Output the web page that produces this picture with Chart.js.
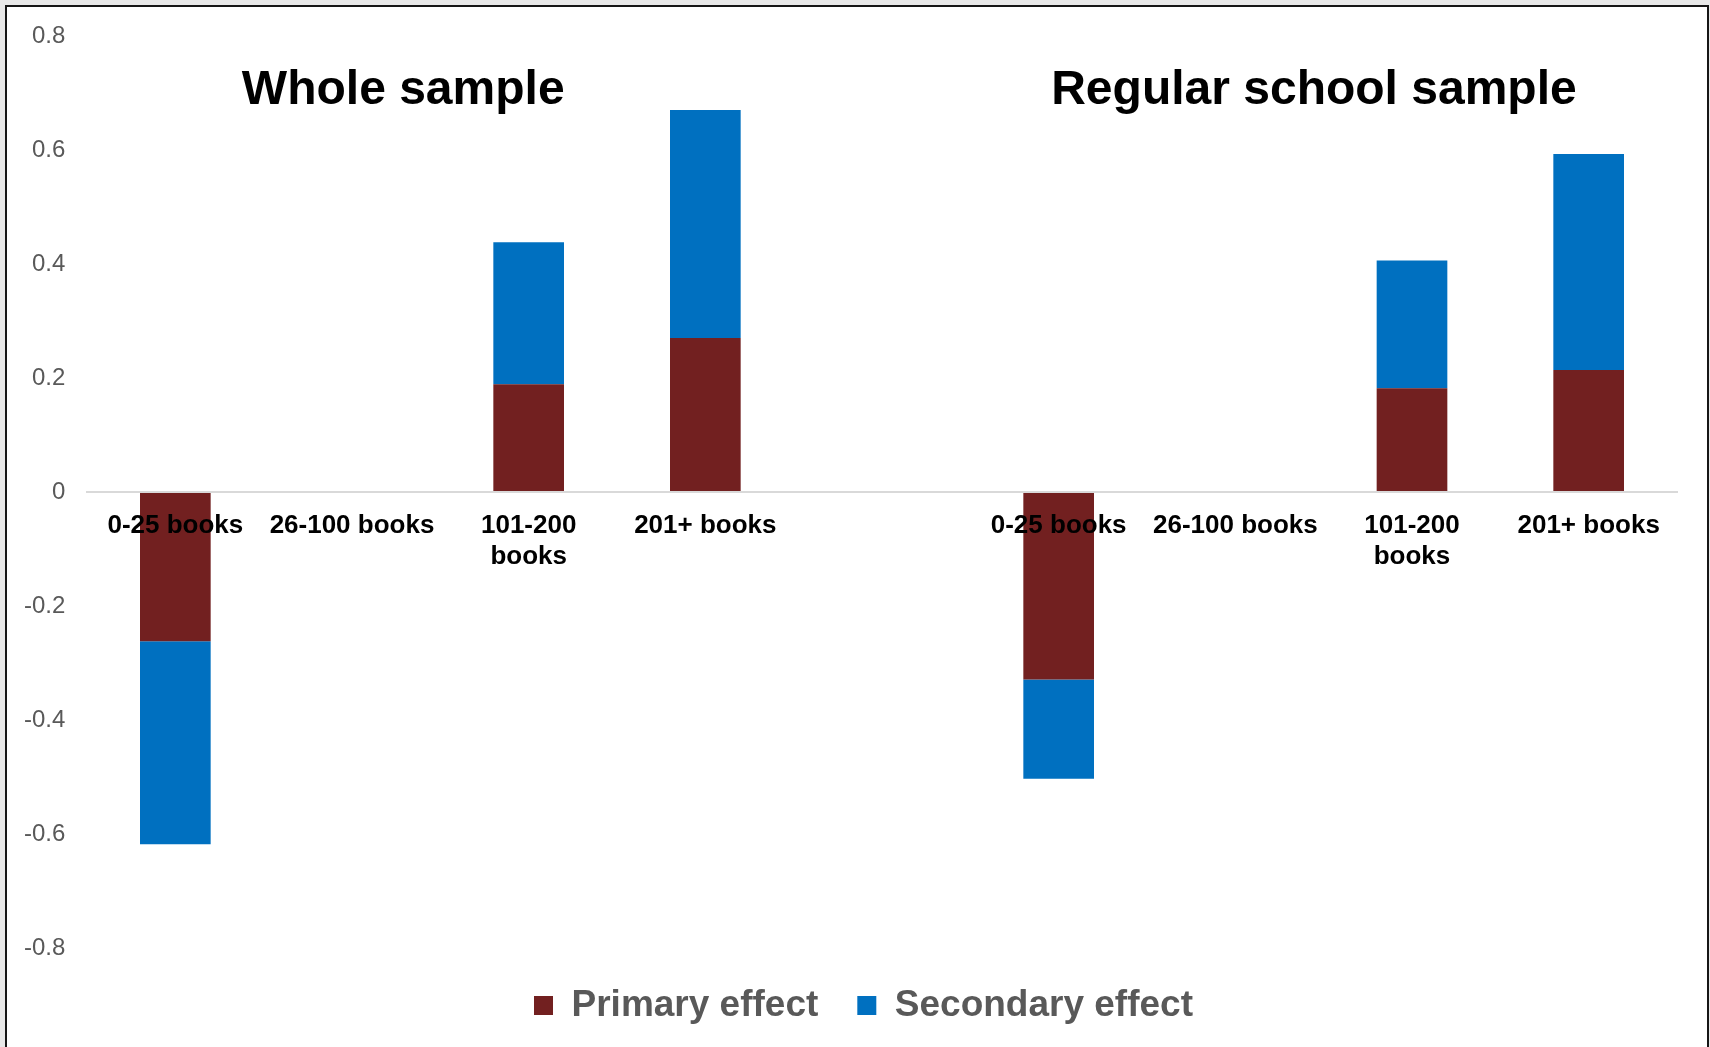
<!DOCTYPE html>
<html>
<head>
<meta charset="utf-8">
<script src="https://cdn.jsdelivr.net/npm/chart.js@4.4.1/dist/chart.umd.min.js"></script>
<style>
	body { margin: 0; background: #e8e8e8; width: 1710px; height: 1047px; overflow: hidden; position: relative; }
	#frame { position: absolute; left: 5px; top: 5px; width: 1700px; height: 1060px; border: 2px solid #161616; background: #fff; }
	#barCanvas { position: absolute; left: 0; top: 0; }
</style>
</head>
<body>
<div id="frame"></div>
<canvas id="barCanvas" width="1710" height="1047"></canvas>
<script>
// 카테고리 (가운데 빈 칸으로 두 표본 구분)
const categories = [
	"0-25 books", "26-100 books", ["101-200", "books"], "201+ books",
	"",
	"0-25 books", "26-100 books", ["101-200", "books"], "201+ books"
];

const primaryEffect = [-0.262, null, 0.189, 0.270, null, -0.329, null, 0.182, 0.214];
const secondaryEffect = [-0.356, null, 0.249, 0.400, null, -0.174, null, 0.224, 0.379];

const yTicks = [0.8, 0.6, 0.4, 0.2, 0, -0.2, -0.4, -0.6, -0.8];

const panelTitles = ["Whole sample", "Regular school sample"];

// 패널 제목 그리기
const panelTitlePlugin = {
	id: 'panelTitles',
	afterDraw(chart) {
		const c = chart.ctx;
		const x = chart.scales.x;
		const y = chart.scales.y;
		const spots = [[1.29, 0.68], [6.445, 0.68]];
		c.save();
		c.font = "bold 48px 'Liberation Sans', Arial, sans-serif";
		c.fillStyle = "#000";
		c.textAlign = "center";
		c.textBaseline = "alphabetic";
		for (let i = 0; i < panelTitles.length; i++) {
			c.fillText(panelTitles[i], x.getPixelForValue(spots[i][0]), y.getPixelForValue(spots[i][1]));
		}
		c.restore();
	}
};

var ctx = document.getElementById("barCanvas").getContext("2d");

var data = {
	labels: categories,
	datasets: [
		{
			label: "Primary effect",
			data: primaryEffect,
			backgroundColor: "#722020",
			borderWidth: 0
		},
		{
			label: "Secondary effect",
			data: secondaryEffect,
			backgroundColor: "#0070C0",
			borderWidth: 0
		}
	]
};

var options = {
	responsive: false,
	animation: false,
	devicePixelRatio: 1,
	layout: {
		padding: { left: 50, right: 33, top: 36, bottom: 13 }
	},
	datasets: {
		bar: { categoryPercentage: 1, barPercentage: 0.4 }
	},
	plugins: {
		legend: {
			display: true,
			position: 'bottom',
			labels: {
				boxWidth: 19,
				boxHeight: 19,
				padding: 39,
				color: "#595959",
				font: { family: "'Liberation Sans', Arial, sans-serif", size: 37, weight: 'bold' }
			}
		},
		tooltip: { enabled: false }
	},
	scales: {
		x: {
			stacked: true,
			position: { y: 0 },
			grid: { display: false, drawTicks: false },
			border: { display: true, color: "#d9d9d9", width: 2, z: 1 },
			ticks: {
				z: 1,
				color: "#000",
				padding: 18,
				maxRotation: 0,
				autoSkip: false,
				font: { family: "'Liberation Sans', Arial, sans-serif", size: 26, weight: 'bold', lineHeight: 1.2 }
			}
		},
		y: {
			stacked: true,
			min: -0.8,
			max: 0.8,
			grid: { display: false, drawTicks: false },
			border: { display: false },
			afterBuildTicks: function(scale) {
				scale.ticks = yTicks.map(v => ({ value: v }));
			},
			ticks: {
				color: "#595959",
				mirror: true,
				crossAlign: 'far',
				padding: -63,
				font: { family: "'Liberation Sans', Arial, sans-serif", size: 24 },
				callback: function(v) { return String(Math.round(v * 10) / 10); }
			},
			afterFit: function(scale) { scale.width = 37; }
		}
	}
};

new Chart(ctx, {
	type: 'bar',
	data: data,
	options: options,
	plugins: [panelTitlePlugin]
});
</script>
</body>
</html>
